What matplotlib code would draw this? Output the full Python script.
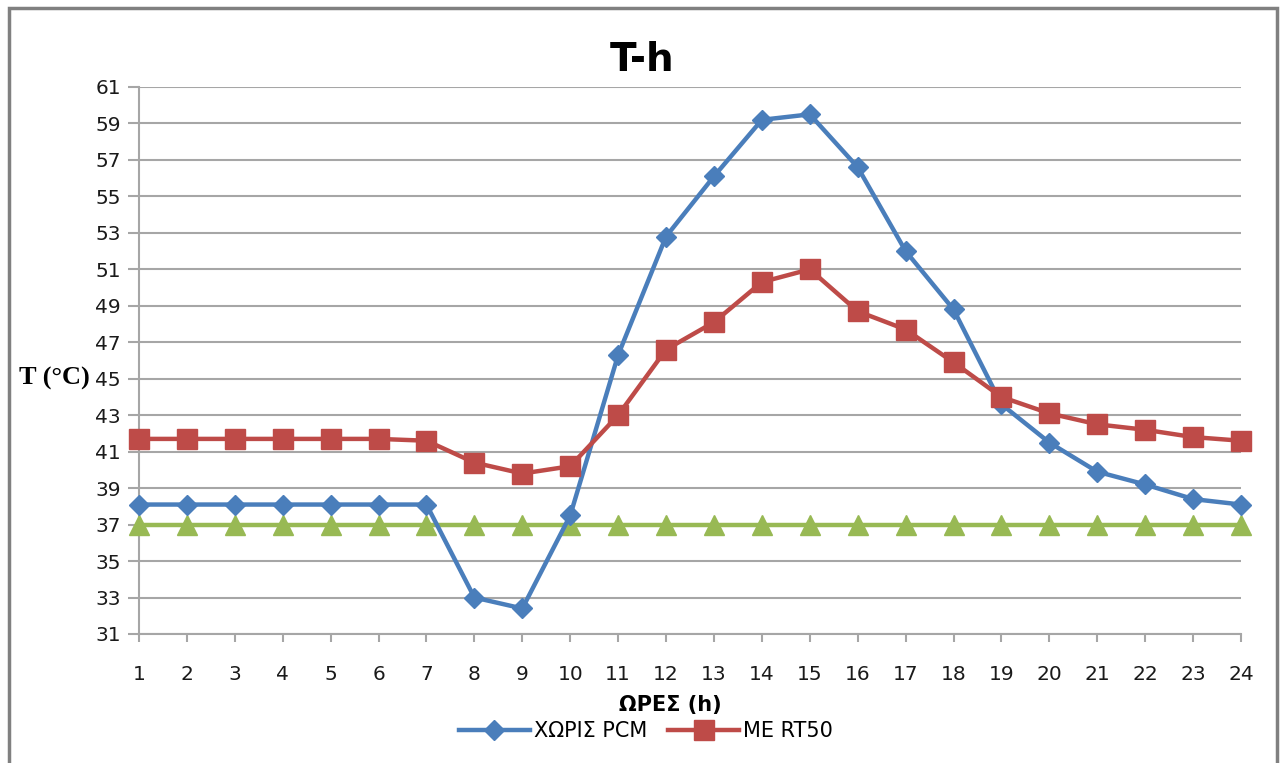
import matplotlib
matplotlib.use("Agg")
import matplotlib.pyplot as plt
from matplotlib.patches import Rectangle

hours = list(range(1, 25))
no_pcm = [38.1, 38.1, 38.1, 38.1, 38.1, 38.1, 38.1, 33.0, 32.4, 37.5, 46.3, 52.8,
          56.1, 59.2, 59.5, 56.6, 52.0, 48.8, 43.6, 41.5, 39.9, 39.2, 38.4, 38.1]
rt50 = [41.7, 41.7, 41.7, 41.7, 41.7, 41.7, 41.6, 40.4, 39.8, 40.2, 43.0, 46.6,
        48.1, 50.3, 51.0, 48.7, 47.7, 45.9, 44.0, 43.1, 42.5, 42.2, 41.8, 41.6]
reference = [37.0] * 24
y_ticks = list(range(31, 62, 2))

plt.rcParams['font.family'] = ['DejaVu Sans']

fig = plt.figure(figsize=(12.85, 7.63), dpi=100)
fig.patch.set_facecolor('white')
fig.add_artist(Rectangle((9 / 1285, -0.05), (1277 - 9) / 1285, 1 - 8 / 763 + 0.05,
                         transform=fig.transFigure, fill=False,
                         edgecolor='#808080', linewidth=2.5))

ax = fig.add_axes([139 / 1285, 1 - 634 / 763, (1241 - 139) / 1285, (634 - 87) / 763])

blue = '#4A7EBB'
red = '#BE4B48'
green = '#98B954'

ax.plot(hours, reference, color=green, linewidth=3.2, marker='^', markersize=15,
        markeredgecolor=green, zorder=3)
l1, = ax.plot(hours, no_pcm, color=blue, linewidth=3.2, marker='D', markersize=10,
              markeredgecolor=blue, zorder=4, label='ΧΩΡΙΣ PCM')
l2, = ax.plot(hours, rt50, color=red, linewidth=3.2, marker='s', markersize=15,
              markeredgecolor=red, zorder=5, label='ΜΕ RT50')

ax.set_xlim(1, 24)
ax.set_ylim(31, 61)
ax.set_yticks(y_ticks)
ax.set_xticks(hours)
ax.grid(axis='y', color='#A6A6A6', linewidth=1.5)
ax.set_axisbelow(True)
for s in ['top', 'right']:
    ax.spines[s].set_visible(False)
for s in ['left', 'bottom']:
    ax.spines[s].set_color('#A6A6A6')
    ax.spines[s].set_linewidth(1.5)
ax.tick_params(axis='y', length=8, width=1.5, color='#A6A6A6', labelsize=14.5,
               pad=5, labelcolor='#1a1a1a')
ax.tick_params(axis='x', length=6, width=1.5, color='#A6A6A6', labelsize=14.5,
               pad=16, labelcolor='#1a1a1a')
for line in ax.lines:
    line.set_clip_on(False)

fig.text(642 / 1285, 1 - 60 / 763, 'T-h', ha='center', va='center',
         fontsize=28, fontweight='bold')
fig.text(670 / 1285, 1 - 705 / 763, 'ΩΡΕΣ (h)', ha='center', va='center',
         fontsize=15, fontweight='bold')
fig.text(19 / 1285, 1 - 378 / 763, 'T (°C)', ha='left', va='center',
         fontsize=19, fontweight='bold', family=['Liberation Serif', 'DejaVu Serif'])

fig.legend(handles=[l1, l2], loc='center', bbox_to_anchor=(646 / 1285, 1 - 731 / 763),
           ncol=2, frameon=False, fontsize=15, handlelength=3.4, handletextpad=0.2,
           columnspacing=1.0)

fig.savefig('out.png', dpi=100, facecolor='white')
